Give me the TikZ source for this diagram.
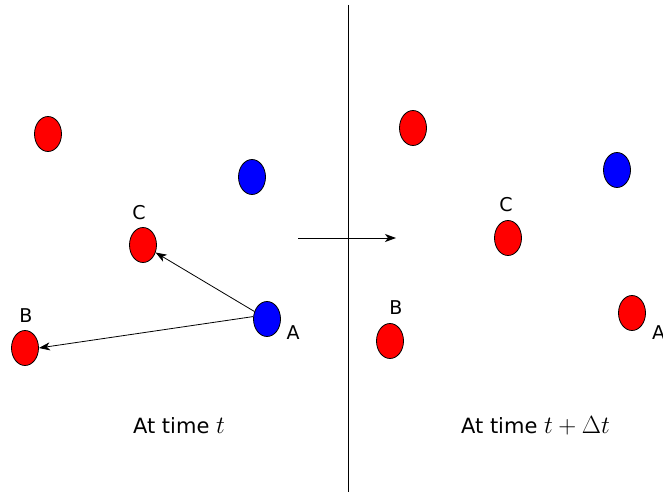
\documentclass[tikz,border=0pt]{standalone}
\usepackage{fontspec}
\setmainfont{DejaVu Sans}
\usetikzlibrary{arrows.meta,shapes.geometric}
\newcommand{\bigmath}[1]{{\fontsize{25}{29}\selectfont$#1$}}
\begin{document}
\begin{tikzpicture}[x=1pt,y=-1pt,
  ball/.style={ellipse,draw=black,line width=0.8pt,minimum width=27pt,minimum height=35pt,inner sep=0pt},
  redball/.style={ball,fill=red},
  blueball/.style={ball,fill=blue},
  lbl/.style={inner sep=0pt,font=\fontsize{19}{22}\selectfont},
  captiontext/.style={inner sep=0pt,anchor=base,font=\fontsize{21}{25}\selectfont},
  conn/.style={line width=0.8pt,-{Stealth[length=11pt,width=8pt,inset=3pt]}}
]
\useasboundingbox (0,0) rectangle (663,495);
% divider
\coordinate (vtop) at (348,5);
\coordinate (vbot) at (348,492);
\draw[line width=0.9pt] (vtop) -- (vbot);
% left panel
\node[redball] (l1) at (48,134) {};
\node[blueball] (l2) at (252,177) {};
\node[redball] (lC) at (143,245) {};
\node[blueball] (lA) at (267,319) {};
\node[redball] (lB) at (25,348) {};
\node[lbl] (tlC) at (139,213) {C};
\node[lbl] (tlA) at (293,333) {A};
\node[lbl] (tlB) at (26,316) {B};
\draw[conn] (lA) -- (lC);
\draw[conn] (lA.170) -- (lB.east);
% middle arrow
\coordinate (ms) at (298,238);
\coordinate (me) at (396,238);
\draw[conn] (ms) -- (me);
% right panel
\node[redball] (r1) at (413,128) {};
\node[blueball] (r2) at (617,170) {};
\node[redball] (rC) at (508,238) {};
\node[redball] (rB) at (390,341) {};
\node[redball] (rA) at (632,313) {};
\node[lbl] (trC) at (506,205) {C};
\node[lbl] (trB) at (396,308) {B};
\node[lbl,anchor=west] (trA) at (652,333) {A};
% captions
\node[captiontext] (capL) at (179,433) {At time \bigmath{t}};
\node[captiontext] (capR) at (535.5,433) {At time \bigmath{t+\Delta t}};
\end{tikzpicture}
\end{document}
